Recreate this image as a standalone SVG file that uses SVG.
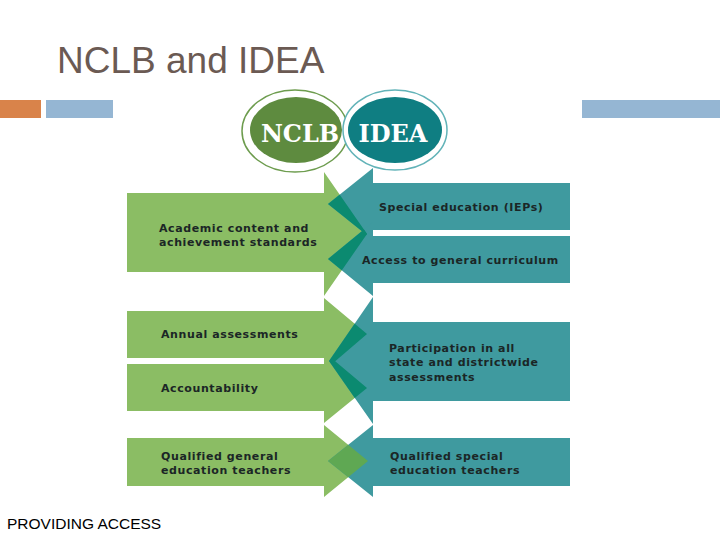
<svg xmlns="http://www.w3.org/2000/svg" width="720" height="540" viewBox="0 0 720 540">
<style>
.g{fill:#8bbd64}
.t{fill:#3f9a9f}
.ov{fill:#0b8a70}
.lbl{font-family:"DejaVu Sans",Verdana,sans-serif;font-weight:bold;font-size:11px;fill:#1b2626;letter-spacing:0.6px}
.logo{font-family:"DejaVu Serif","Liberation Serif",serif;font-weight:bold;font-size:24px;fill:#ffffff;text-anchor:middle}
</style>
<defs>
<clipPath id="gclip">
<polygon points="127,193 324,193 324,172 367,234 324,296 324,272 127,272"/>
<polygon points="127,311 324,311 324,298 367,334 324,371 324,358 127,358"/>
<polygon points="127,364 324,364 324,352 367,388 324,423 324,411 127,411"/>
</clipPath>
<clipPath id="gclip4">
<polygon points="127,438 324,438 324,425 368,461 324,497 324,486 127,486"/>
</clipPath>
<clipPath id="nclbclip"><ellipse cx="296" cy="130" rx="46" ry="33"/></clipPath>
</defs>
<rect width="720" height="540" fill="#ffffff"/>
<text x="57" y="73" font-family="Liberation Sans,Arial,sans-serif" font-size="37" fill="#6b5a53">NCLB and IDEA</text>
<rect x="0" y="100" width="41" height="18" fill="#d9834a"/>
<rect x="46" y="100" width="67" height="18" fill="#95b6d3"/>
<rect x="582" y="100" width="138" height="18" fill="#95b6d3"/>

<g id="logo">
<ellipse cx="295" cy="131" rx="53" ry="41" fill="#ffffff" stroke="#6d9c4e" stroke-width="1.5"/>
<ellipse cx="395" cy="130" rx="52" ry="40" fill="#ffffff" stroke="#62b3b8" stroke-width="1.5"/>
<ellipse cx="296" cy="130" rx="46" ry="33" fill="#5e8b3f"/>
<ellipse cx="395" cy="130" rx="47" ry="33" fill="#0f7e82"/>
<ellipse cx="395" cy="130" rx="47" ry="33" fill="#2c6d4c" clip-path="url(#nclbclip)"/>
<text class="logo" x="300" y="142">NCLB</text>
<text class="logo" x="393" y="142">IDEA</text>
</g>

<g id="connectors">
<g id="green-arrows">
<polygon class="g" points="127,193 324,193 324,172 367,234 324,296 324,272 127,272"/>
<polygon class="g" points="127,311 324,311 324,298 367,334 324,371 324,358 127,358"/>
<polygon class="g" points="127,364 324,364 324,352 367,388 324,423 324,411 127,411"/>
<polygon class="g" points="127,438 324,438 324,425 368,461 324,497 324,486 127,486"/>
</g>
<g id="teal-arrows">
<polygon class="t" points="570,183 373,183 373,168 328,204 373,240 373,230 570,230"/>
<polygon class="t" points="570,236 373,236 373,222 328,259 373,296 373,283 570,283"/>
<polygon class="t" points="570,322 373,322 373,297 329,361 373,424 373,401 570,401"/>
<polygon class="t" points="570,438 373,438 373,425 328,461 373,497 373,486 570,486"/>
</g>
<g id="overlaps">
<g clip-path="url(#gclip)">
<polygon class="ov" points="373,168 328,204 373,240"/>
<polygon class="ov" points="373,222 328,259 373,296"/>
<polygon class="ov" points="373,297 329,361 373,424"/>
</g>
<polygon fill="#5fa853" points="373,425 328,461 373,497" clip-path="url(#gclip4)"/>
</g>
</g>

<g id="n-academic"><text class="lbl" x="159" y="232">Academic content and</text><text class="lbl" x="159" y="246">achievement standards</text></g>
<g id="n-special"><text class="lbl" x="379" y="211">Special education (IEPs)</text></g>
<g id="n-access"><text class="lbl" x="362" y="264">Access to general curriculum</text></g>
<g id="n-annual"><text class="lbl" x="161" y="338">Annual assessments</text></g>
<g id="n-accountability"><text class="lbl" x="161" y="392">Accountability</text></g>
<g id="n-participation"><text class="lbl" x="389" y="352">Participation in all</text><text class="lbl" x="389" y="366">state and districtwide</text><text class="lbl" x="389" y="381">assessments</text></g>
<g id="n-qgen"><text class="lbl" x="161" y="460">Qualified general</text><text class="lbl" x="161" y="474">education teachers</text></g>
<g id="n-qspec"><text class="lbl" x="390" y="460">Qualified special</text><text class="lbl" x="390" y="474">education teachers</text></g>

<text x="7" y="529" font-family="Liberation Sans,Arial,sans-serif" font-size="15.5" fill="#000000">PROVIDING ACCESS</text>
</svg>
